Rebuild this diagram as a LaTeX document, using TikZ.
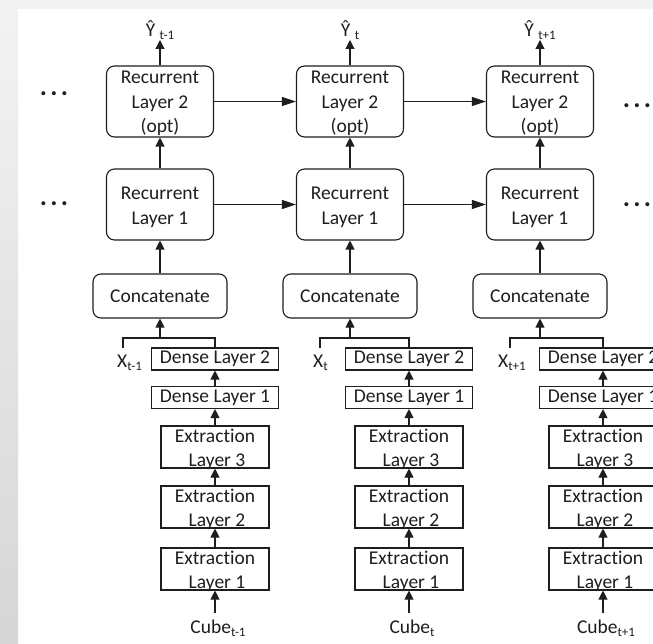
\documentclass[tikz,border=0pt]{standalone}
\usepackage{fontspec}
\setmainfont{Carlito}[RawFeature={-liga}]
\usetikzlibrary{arrows.meta}
\definecolor{ink}{HTML}{1E1E1E}
\definecolor{bgtop}{HTML}{F3F3F3}
\definecolor{bgbot}{HTML}{D6D6D6}
\newcommand\sbs[1]{\raisebox{-3pt}{\fontsize{13}{13}\selectfont #1}}
\newcommand\ml[2]{\raisebox{#1}[0pt][0pt]{\begin{tabular}[t]{@{}c@{}}#2\end{tabular}}}
\tikzset{
  rbox/.style={draw=ink, rounded corners=8pt, line width=1.1pt, minimum width=107pt, minimum height=71pt, inner sep=0pt, align=center},
  cbox/.style={draw=ink, rounded corners=8pt, line width=1.1pt, minimum width=134pt, minimum height=44pt, inner sep=0pt, align=center},
  dbox/.style={draw=ink, line width=1.1pt, minimum width=127pt, minimum height=22pt, inner sep=0pt, align=center},
  ebox/.style={draw=ink, line width=1.1pt, minimum width=108pt, minimum height=42pt, inner sep=0pt, align=center},
  lbl/.style={inner sep=0pt},
  dots/.style={inner sep=0pt, font=\fontsize{27}{27}\selectfont\bfseries},
  arr/.style={draw=ink, line width=1.1pt, -{Triangle[length=9pt,width=9pt]}},
  harr/.style={draw=ink, line width=1.1pt, -{Triangle[length=14pt,width=9pt]}},
  ln/.style={draw=ink, line width=1.1pt}
}
\begin{document}
\begin{tikzpicture}[x=1pt, y=-1pt, font=\fontsize{19.5}{24.3}\selectfont, text=ink]
\path[use as bounding box] (0,0) rectangle (653,644);
\fill[white] (0,0) rectangle (653,644);
\fill[bgtop] (0,0) rectangle (653,9);
\shade[top color=bgtop, bottom color=bgbot] (0,0) rectangle (18,644);
\clip (0,0) rectangle (653,644);

\foreach \i/\cx/\sx/\lx/\xw/\sub in {a/160/215/123/117/t-1, b/350/409/320/313/t, c/540/603/510/498/t+1} {
  \node[lbl, anchor=base] (y\i) at (\cx,37) {Ŷ \sbs{\sub}};
  \coordinate (yt\i) at (\cx,40);
  \node[rbox] (rt\i) at (\cx,101.5) {\ml{17.5pt}{Recurrent\\Layer 2\\(opt)}};
  \node[rbox] (rb\i) at (\cx,204.5) {\ml{4.5pt}{Recurrent\\Layer 1}};
  \node[cbox] (cc\i) at (\cx,296) {Concatenate};
  \coordinate (j\i) at (\cx,338);
  \node[dbox] (dd\i) at (\sx,359) {Dense Layer 2};
  \node[dbox] (dc\i) at (\sx,397.5) {Dense Layer 1};
  \node[ebox] (ec\i) at (\sx,447) {\ml{5pt}{Extraction\\\hspace*{4pt}Layer 3}};
  \node[ebox] (eb\i) at (\sx,507) {\ml{5pt}{Extraction\\\hspace*{4pt}Layer 2}};
  \node[ebox] (ea\i) at (\sx,569) {\ml{5pt}{Extraction\\\hspace*{4pt}Layer 1}};
  \node[lbl, anchor=base west] (x\i) at (\xw,367) {X\sbs{\sub}};
  \coordinate (xb\i) at (\lx,348);
  \node[lbl, anchor=base] (cu\i) at (\sx+3,633) {Cube\sbs{\sub}};
  \coordinate (cb\i) at (\sx,613);
  \draw[arr] (rt\i.north) -- (yt\i);
  \draw[arr] (rb\i.north) -- (rt\i.south);
  \draw[arr] (cc\i.north) -- (rb\i.south);
  \draw[arr] (j\i) -- (cc\i.south);
  \draw[ln] (xb\i) -- (xb\i |- j\i) -- (j\i -| dd\i.north) -- (dd\i.north);
  \draw[arr] (dc\i.north) -- (dd\i.south);
  \draw[arr] (ec\i.north) -- (dc\i.south);
  \draw[arr] (eb\i.north) -- (ec\i.south);
  \draw[arr] (ea\i.north) -- (eb\i.south);
  \draw[arr] (cb\i) -- (ea\i.south);
}
\draw[harr] (rta.east) -- (rtb.west);
\draw[harr] (rtb.east) -- (rtc.west);
\draw[harr] (rba.east) -- (rbb.west);
\draw[harr] (rbb.east) -- (rbc.west);

\node[dots] (dl2) at (54,94) {.\hspace{3.2pt}.\hspace{3.2pt}.};
\node[dots] (dl1) at (54,204) {.\hspace{3.2pt}.\hspace{3.2pt}.};
\node[dots] (dr2) at (637,106) {.\hspace{3.2pt}.\hspace{3.2pt}.};
\node[dots] (dr1) at (637,205) {.\hspace{3.2pt}.\hspace{3.2pt}.};
\end{tikzpicture}
\end{document}
